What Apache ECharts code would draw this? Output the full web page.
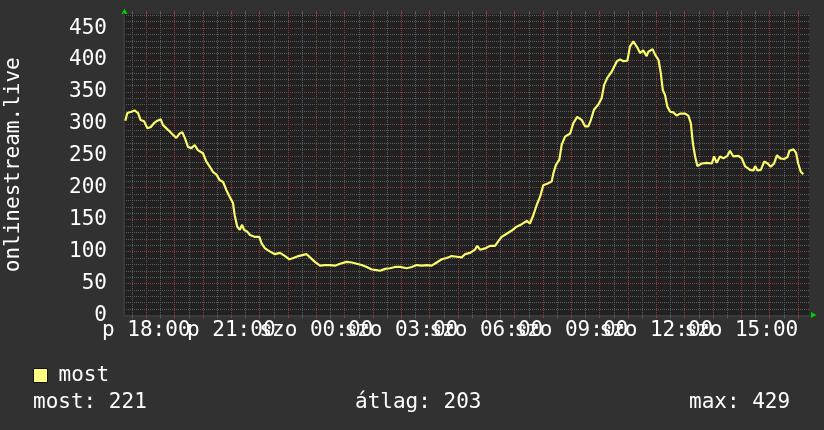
<!DOCTYPE html>
<html>
<head>
<meta charset="utf-8">
<title>onlinestream.live</title>
<script src="https://cdn.jsdelivr.net/npm/echarts@6.0.0/dist/echarts.min.js"></script>
<style>
  html, body { margin: 0; padding: 0; background: #313131; }
  #main { width: 824px; height: 430px; }
</style>
</head>
<body>
<div id="main"></div>
<script>
// hours counted from p 00:00, so 24 = szo 00:00
const times = [
  17.26, 17.33, 17.47, 17.59, 17.71, 17.80, 17.92, 18.04, 18.16, 18.27, 18.39, 18.51, 18.59, 18.71, 18.83, 18.94,
  19.06, 19.18, 19.27, 19.36, 19.47, 19.59, 19.71, 19.82, 19.88, 20.00, 20.12, 20.24, 20.35, 20.47, 20.59, 20.71,
  20.82, 20.94, 21.06, 21.12, 21.21, 21.30, 21.38, 21.45, 21.57, 21.66, 21.84, 21.99, 22.07, 22.19, 22.37, 22.54,
  22.72, 22.90, 23.05, 23.19, 23.37, 23.54, 23.66, 23.78, 23.95, 24.13, 24.31, 24.48, 24.66, 24.84, 25.07, 25.25,
  25.43, 25.60, 25.78, 25.96, 26.13, 26.25, 26.43, 26.60, 26.78, 26.96, 27.19, 27.37, 27.54, 27.72, 27.90, 28.07,
  28.25, 28.43, 28.60, 28.78, 28.96, 29.13, 29.25, 29.43, 29.60, 29.68, 29.78, 29.96, 30.13, 30.31, 30.42, 30.54,
  30.72, 30.90, 31.07, 31.25, 31.43, 31.54, 31.66, 31.78, 31.90, 32.01, 32.19, 32.31, 32.37, 32.46, 32.58, 32.66,
  32.78, 32.96, 33.07, 33.21, 33.37, 33.49, 33.60, 33.69, 33.80, 33.95, 34.07, 34.16, 34.27, 34.43, 34.61, 34.72,
  34.84, 34.98, 35.07, 35.19, 35.31, 35.43, 35.54, 35.66, 35.72, 35.87, 35.96, 36.08, 36.16, 36.23, 36.31, 36.39,
  36.49, 36.60, 36.72, 36.84, 37.02, 37.13, 37.22, 37.29, 37.37, 37.45, 37.61, 37.78, 37.96, 38.04, 38.13, 38.25,
  38.37, 38.51, 38.60, 38.72, 38.90, 39.02, 39.13, 39.31, 39.43, 39.49, 39.57, 39.69, 39.81, 39.93, 40.04, 40.16,
  40.26, 40.37, 40.51, 40.63, 40.70, 40.84, 40.93, 41.01, 41.10, 41.19
];
const values = [
  305, 317, 319, 321, 317, 306, 304, 293, 295, 301, 305, 307, 298, 293, 288, 283,
  278, 285, 287, 278, 264, 262, 267, 259, 262, 254, 241, 233, 225, 221, 212, 209,
  197, 186, 176, 157, 139, 134, 142, 134, 131, 126, 123, 123, 113, 105, 100, 96,
  98, 93, 88, 90, 93, 95, 96, 91, 84, 78, 79, 79, 78, 81, 84, 83,
  81, 79, 76, 72, 71, 70, 73, 74, 76, 76, 74, 76, 79, 78, 79, 78,
  83, 88, 90, 93, 92, 91, 96, 98, 103, 109, 103, 105, 109, 109, 116, 123,
  128, 133, 139, 143, 148, 144, 157, 173, 186, 204, 207, 210, 223, 236, 244, 267,
  280, 285, 301, 311, 306, 296, 296, 306, 322, 330, 340, 361, 372, 382, 398, 401,
  398, 399, 421, 429, 421, 411, 415, 406, 413, 417, 408, 400, 379, 353, 345, 327,
  319, 318, 313, 316, 316, 313, 301, 270, 249, 234, 238, 239, 238, 249, 239, 249,
  246, 250, 258, 249, 250, 246, 234, 228, 227, 234, 227, 228, 241, 238, 233, 238,
  251, 246, 245, 248, 258, 260, 255, 238, 225, 221
];
const labelHours = [18, 21, 24, 27, 30, 33, 36, 39];
const labelTexts = ['p 18:00', 'p 21:00', 'szo 00:00', 'szo 03:00', 'szo 06:00', 'szo 09:00', 'szo 12:00', 'szo 15:00'];
const yLabels = [0, 50, 100, 150, 200, 250, 300, 350, 400, 450];
const statNames = ['most', 'átlag', 'max'];
const statValues = [221, 203, 429];

const FONT = 'DejaVu Sans Mono';
const xMin = 17.213, xMax = 41.39;
const yMax = 472;

// grid positions: every 30 min / 10 minor, every hour / 50 major
let halfHours = [], hours = [];
for (let h = 17.5; h < xMax; h += 0.5) {
  if (h % 1 === 0) hours.push(h); else halfHours.push(h);
}
let yMinor = [], yMajor = [];
for (let v = 10; v < yMax; v += 10) {
  if (v % 50 === 0) yMajor.push(v); else yMinor.push(v);
}

const minorLine = { color: '#5a5a5a', type: [1, 1], width: 1 };
const majorLine = { color: '#8c3b3b', type: [1, 1], width: 1 };

// blank labels at both ends keep echarts from dropping the overlapping first/last labels
const xLabelValues = [xMin].concat(labelHours, [xMax]);
function xLabel(v) {
  const i = labelHours.indexOf(Math.round(v * 100) / 100);
  return i < 0 ? ' ' : labelTexts[i];
}

// small stubs that stick out of the plot, like rrdtool draws
function stubAxis(pos, ticks, color) {
  return {
    type: 'value', min: xMin, max: xMax, position: pos,
    axisLine: { show: false },
    axisTick: { show: true, customValues: ticks, length: 3, lineStyle: { color: color } },
    axisLabel: { show: false },
    splitLine: { show: false }
  };
}

const option = {
  backgroundColor: '#313131',
  animation: false,
  grid: {
    left: 124, top: 14, width: 685, height: 301.5,
    outerBoundsMode: 'none',
    show: true, backgroundColor: '#212121', borderWidth: 0
  },
  legend: {
    data: [{ name: 'most', icon: 'rect', itemStyle: { color: '#ffff80', borderColor: '#111', borderWidth: 1 } }],
    left: 33, top: 365, padding: 0,
    itemWidth: 14, itemHeight: 14,
    selectedMode: false,
    textStyle: { color: '#fff', fontFamily: FONT, fontSize: 21, padding: [0, 0, 0, 6] }
  },
  xAxis: [
    {
      type: 'value', min: xMin, max: xMax, position: 'bottom',
      axisLine: { show: false },
      axisTick: { show: true, customValues: halfHours, length: 3, lineStyle: { color: '#5a5a5a' } },
      axisLabel: { show: false },
      splitLine: { show: true, customValues: halfHours, lineStyle: minorLine }
    },
    {
      type: 'value', min: xMin, max: xMax, position: 'bottom',
      axisLine: { show: true, lineStyle: { color: '#3a3a3a', width: 2 } },
      axisTick: { show: true, customValues: hours, length: 3, lineStyle: { color: '#8c3b3b' } },
      axisLabel: {
        customValues: xLabelValues,
        formatter: xLabel,
        color: '#fff', fontFamily: FONT, fontSize: 21, margin: 5
      },
      splitLine: { show: true, customValues: hours, lineStyle: majorLine }
    },
    stubAxis('top', halfHours, '#5a5a5a'),
    stubAxis('top', hours, '#8c3b3b')
  ],
  yAxis: [
    {
      type: 'value', min: 0, max: yMax, position: 'left',
      axisLine: { show: false },
      axisTick: { show: false, customValues: yMinor },
      axisLabel: { show: false },
      splitLine: { show: true, customValues: yMinor, lineStyle: minorLine }
    },
    {
      type: 'value', min: 0, max: yMax, position: 'left',
      name: 'onlinestream.live', nameLocation: 'middle', nameGap: 100,
      nameTextStyle: { color: '#fff', fontFamily: FONT, fontSize: 21 },
      axisLine: { show: true, lineStyle: { color: '#3a3a3a', width: 2 } },
      axisTick: { show: false, customValues: yMajor },
      axisLabel: { customValues: yLabels, color: '#fff', fontFamily: FONT, fontSize: 21, margin: 17 },
      splitLine: { show: true, customValues: yMajor, lineStyle: majorLine }
    }
  ],
  series: [{
    name: 'most',
    type: 'line',
    xAxisIndex: 1,
    yAxisIndex: 1,
    showSymbol: false,
    symbol: 'none',
    lineStyle: { color: '#fafa6e', width: 2.2 },
    itemStyle: { color: '#ffff80' },
    data: times.map((t, i) => [t, values[i]])
  }],
  graphic: [
    { type: 'polygon', shape: { points: [[124.5, 8.5], [121.5, 14], [127.5, 14]] }, style: { fill: '#00d000' } },
    { type: 'polygon', shape: { points: [[816.5, 315], [811, 312], [811, 318]] }, style: { fill: '#00d000' } }
  ].concat(statNames.map((n, i) => ({
    type: 'text',
    x: [33, 355, 689][i], y: 403,
    style: { text: n + ': ' + statValues[i], fill: '#fff', font: '21px "' + FONT + '"', verticalAlign: 'middle' }
  })))
};

const myChart = echarts.init(document.getElementById('main'));
myChart.setOption(option);
</script>
</body>
</html>
